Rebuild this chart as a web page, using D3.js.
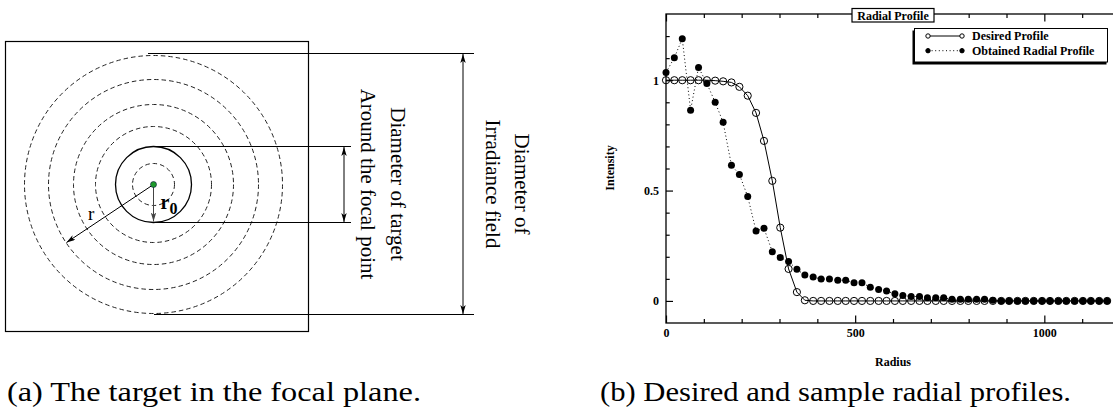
<!DOCTYPE html>
<html>
<head>
<meta charset="utf-8">
<script src="https://cdnjs.cloudflare.com/ajax/libs/d3/7.8.5/d3.min.js"></script>
<style>
  html, body { margin: 0; padding: 0; background: #fff; overflow: hidden; }
  svg { display: block; }
  svg text { font-family: "Liberation Serif", "Times New Roman", Times, serif; }
</style>
</head>
<body>
<script>
// radial profile data
const radius = [0, 22, 43, 65, 86, 108, 130, 151, 173, 194, 216, 238, 259, 281, 302, 324, 346, 367, 389, 410,
    432, 454, 475, 497, 518, 540, 562, 583, 605, 626, 648, 670, 691, 713, 734, 756, 778, 799, 821, 842,
    864, 886, 907, 929, 950, 972, 994, 1015, 1037, 1058, 1080, 1102, 1123, 1145, 1166];
const desired = [1, 1, 1, 1, 1, 1, 0.998, 0.995, 0.99, 0.97, 0.93, 0.852, 0.725, 0.544, 0.332, 0.145, 0.04, 0.003,
    0, 0, 0, 0, 0, 0, 0, 0, 0, 0, 0, 0, 0, 0, 0, 0, 0, 0, 0, 0, 0, 0, 0, 0, 0, 0, 0, 0, 0, 0, 0, 0, 0, 0, 0, 0, 0];
const obtained = [1.035, 1.102, 1.188, 0.864, 1.058, 0.985, 0.9, 0.809, 0.615, 0.573, 0.473,
    0.317, 0.329, 0.223, 0.197, 0.179, 0.143, 0.117, 0.108, 0.099, 0.099,
    0.094, 0.094, 0.082, 0.082, 0.062, 0.052, 0.045, 0.032, 0.025, 0.02,
    0.02, 0.014, 0.014, 0.014, 0.008, 0.008, 0.008, 0.008, 0.008, 0.003,
    0, 0, 0, 0, 0, 0, 0, 0, 0, 0, 0, 0, 0, 0];
const xTicks = [0, 500, 1000];
const xMinor = [100, 200, 300, 400, 600, 700, 800, 900, 1100];
const yTicks = [0, 0.5, 1];
const yMinor = [0.1, 0.2, 0.3, 0.4, 0.6, 0.7, 0.8, 0.9, 1.1, 1.2];
const seriesNames = ["Desired Profile", "Obtained Radial Profile"];

// focal plane sketch
const ringRadii = [21, 58, 80, 105, 129];
const targetRadius = 38;

let svg = d3.select("body").append("svg")
    .attr("width", 1113)
    .attr("height", 411);

let defs = svg.append("defs");
defs.append("marker")
    .attr("id", "arr")
    .attr("viewBox", "0 0 10 6")
    .attr("refX", 10).attr("refY", 3)
    .attr("markerWidth", 9).attr("markerHeight", 5.4)
    .attr("markerUnits", "userSpaceOnUse")
    .attr("orient", "auto-start-reverse")
    .append("path").attr("d", "M0,0L10,3L0,6L2.5,3z").attr("fill", "#000");
defs.append("marker")
    .attr("id", "arrGray")
    .attr("viewBox", "0 0 10 6")
    .attr("refX", 10).attr("refY", 3)
    .attr("markerWidth", 9).attr("markerHeight", 5.4)
    .attr("markerUnits", "userSpaceOnUse")
    .attr("orient", "auto")
    .append("path").attr("d", "M0,0L10,3L0,6L2.5,3z").attr("fill", "#444");

/* ---------- (a) the target in the focal plane ---------- */
let left = svg.append("g");
let cx = 153.5, cy = 184.5;

left.append("rect")
    .attr("x", 5.5).attr("y", 41.5).attr("width", 303).attr("height", 290)
    .attr("fill", "none").attr("stroke", "#000").attr("stroke-width", 1.2);

left.selectAll("circle.ring").data(ringRadii).enter().append("circle")
    .attr("class", "ring")
    .attr("cx", cx).attr("cy", cy).attr("r", d => d)
    .attr("fill", "none").attr("stroke", "#222").attr("stroke-width", 1)
    .attr("stroke-dasharray", "4.5,3");

left.append("circle")
    .attr("cx", cx).attr("cy", cy).attr("r", targetRadius)
    .attr("fill", "none").attr("stroke", "#000").attr("stroke-width", 1.3);

let hLines = [[148, 53.5, 474], [153, 146.5, 351], [153, 222.5, 351], [154, 314.5, 474]];
left.selectAll("line.h").data(hLines).enter().append("line")
    .attr("x1", d => d[0]).attr("x2", d => d[2])
    .attr("y1", d => d[1]).attr("y2", d => d[1])
    .attr("stroke", "#000").attr("stroke-width", 1);

// dimension arrows
left.append("line")
    .attr("x1", 344).attr("x2", 344).attr("y1", 147).attr("y2", 222)
    .attr("stroke", "#000").attr("stroke-width", 1)
    .attr("marker-start", "url(#arr)").attr("marker-end", "url(#arr)");
left.append("line")
    .attr("x1", 463).attr("x2", 463).attr("y1", 54).attr("y2", 314)
    .attr("stroke", "#000").attr("stroke-width", 1)
    .attr("marker-start", "url(#arr)").attr("marker-end", "url(#arr)");

// r and r0
left.append("line")
    .attr("x1", cx).attr("y1", cy).attr("x2", 66.5).attr("y2", 242.5)
    .attr("stroke", "#000").attr("stroke-width", 1)
    .attr("marker-end", "url(#arr)");
left.append("line")
    .attr("x1", cx).attr("y1", cy).attr("x2", cx).attr("y2", 221.5)
    .attr("stroke", "#444").attr("stroke-width", 1)
    .attr("marker-end", "url(#arrGray)");

left.append("circle")
    .attr("cx", cx).attr("cy", cy).attr("r", 3)
    .attr("fill", "#1e9a2a").attr("stroke", "#114").attr("stroke-width", 0.6);

left.append("text")
    .attr("x", 88).attr("y", 219.5)
    .attr("font-size", 19)
    .text("r");
let r0 = left.append("text")
    .attr("x", 160.5).attr("y", 208.5)
    .attr("font-weight", "bold").attr("font-size", 20);
r0.append("tspan").text("r");
r0.append("tspan").attr("font-size", 16).attr("dy", 5.5).text("0");

let sideText = [
    { x: 390.5, t: "Diameter of target" },
    { x: 361, t: "Around the focal point" },
    { x: 515, t: "Diameter of" },
    { x: 485.5, t: "Irradiance field" }
];
left.selectAll("text.side").data(sideText).enter().append("text")
    .attr("class", "side")
    .attr("transform", d => `translate(${d.x},184) rotate(90)`)
    .attr("text-anchor", "middle")
    .attr("font-size", 21)
    .text(d => d.t);

/* ---------- (b) radial profiles ---------- */
let x = d3.scaleLinear().domain([0, 1200]).range([666, 1120]);
let y = d3.scaleLinear().domain([-0.1, 1.3]).range([323, 14]);

let plot = svg.append("g");

let axisStyle = g => {
    g.select(".domain").remove();
    g.selectAll("line").attr("stroke", "#000").attr("stroke-width", 1.2);
    g.selectAll("text")
        .attr("font-family", null)
        .attr("font-weight", "bold").attr("font-size", 12)
        .attr("fill", "#000");
};

plot.append("g").attr("transform", "translate(0,323)")
    .call(d3.axisBottom(x).tickValues(xTicks).tickSize(-7.5).tickPadding(5).tickFormat(d3.format("d")))
    .call(axisStyle);
plot.append("g").attr("transform", "translate(0,323)")
    .call(d3.axisBottom(x).tickValues(xMinor).tickSize(-4).tickFormat(""))
    .call(axisStyle);
plot.append("g").attr("transform", "translate(0,14)")
    .call(d3.axisTop(x).tickValues(xTicks).tickSize(-7.5).tickFormat(""))
    .call(axisStyle);
plot.append("g").attr("transform", "translate(0,14)")
    .call(d3.axisTop(x).tickValues(xMinor).tickSize(-4).tickFormat(""))
    .call(axisStyle);
plot.append("g").attr("transform", "translate(666,0)")
    .call(d3.axisLeft(y).tickValues(yTicks).tickSize(-7).tickPadding(7).tickFormat(d => d))
    .call(axisStyle);
plot.append("g").attr("transform", "translate(666,0)")
    .call(d3.axisLeft(y).tickValues(yMinor).tickSize(-3.7).tickFormat(""))
    .call(axisStyle);

plot.append("rect")
    .attr("x", x(0)).attr("y", y(1.3))
    .attr("width", x(1200) - x(0)).attr("height", y(-0.1) - y(1.3))
    .attr("fill", "none").attr("stroke", "#000").attr("stroke-width", 1.3);

let lineGen = vals => d3.line()
    .x((d, i) => x(radius[i]))
    .y(d => y(d))(vals);

plot.append("path")
    .attr("d", lineGen(obtained))
    .attr("fill", "none").attr("stroke", "#000").attr("stroke-width", 1)
    .attr("stroke-dasharray", "1,2.6");
plot.append("path")
    .attr("d", lineGen(desired))
    .attr("fill", "none").attr("stroke", "#000").attr("stroke-width", 1);

plot.selectAll("circle.des").data(desired).enter().append("circle")
    .attr("class", "des")
    .attr("cx", (d, i) => x(radius[i])).attr("cy", d => y(d)).attr("r", 3.6)
    .attr("fill", "none").attr("stroke", "#000").attr("stroke-width", 1);
plot.selectAll("circle.obt").data(obtained).enter().append("circle")
    .attr("class", "obt")
    .attr("cx", (d, i) => x(radius[i])).attr("cy", d => y(d)).attr("r", 3.5)
    .attr("fill", "#000");

// title box on the top edge
let title = plot.append("g");
title.append("rect")
    .attr("x", 852).attr("y", 8.5).attr("width", 82).attr("height", 13.5)
    .attr("fill", "#fff").attr("stroke", "#000").attr("stroke-width", 1.2);
title.append("text")
    .attr("x", 893).attr("y", 19.5)
    .attr("text-anchor", "middle")
    .attr("font-weight", "bold").attr("font-size", 12)
    .text("Radial Profile");

// legend with a drop shadow
let legend = plot.append("g");
legend.append("rect")
    .attr("x", 912.5).attr("y", 30.5).attr("width", 194).attr("height", 34)
    .attr("fill", "#000");
legend.append("rect")
    .attr("x", 914.5).attr("y", 28.5).attr("width", 193).attr("height", 33.5)
    .attr("fill", "#fff").attr("stroke", "#000").attr("stroke-width", 1);

let rows = legend.selectAll("g.row").data(seriesNames).enter().append("g")
    .attr("class", "row")
    .attr("transform", (d, i) => `translate(0,${36 + i * 14.7})`);
rows.append("line")
    .attr("x1", 928).attr("x2", 962)
    .attr("stroke", "#000").attr("stroke-width", 1)
    .attr("stroke-dasharray", (d, i) => i === 0 ? null : "1,2.6");
rows.each(function(d, i) {
    let r = d3.select(this);
    [928, 962].forEach(px => {
        r.append("circle")
            .attr("cx", px).attr("cy", 0).attr("r", 2.2)
            .attr("fill", i === 0 ? "#fff" : "#000")
            .attr("stroke", "#000").attr("stroke-width", 1);
    });
});
rows.append("text")
    .attr("x", 972).attr("y", 4)
    .attr("font-weight", "bold").attr("font-size", 12)
    .text(d => d);

// axis titles
plot.append("text")
    .attr("transform", "translate(614,168) rotate(-90)")
    .attr("text-anchor", "middle")
    .attr("font-weight", "bold").attr("font-size", 12)
    .text("Intensity");
plot.append("text")
    .attr("x", 893).attr("y", 366)
    .attr("text-anchor", "middle")
    .attr("font-weight", "bold").attr("font-size", 12)
    .text("Radius");

/* ---------- captions ---------- */
let captions = [
    { x: 7, w: 414, t: "(a) The target in the focal plane." },
    { x: 600, w: 471, t: "(b) Desired and sample radial profiles." }
];
svg.selectAll("text.cap").data(captions).enter().append("text")
    .attr("class", "cap")
    .attr("x", d => d.x).attr("y", 401)
    .attr("font-size", 27)
    .attr("textLength", d => d.w).attr("lengthAdjust", "spacingAndGlyphs")
    .text(d => d.t);
</script>
</body>
</html>
